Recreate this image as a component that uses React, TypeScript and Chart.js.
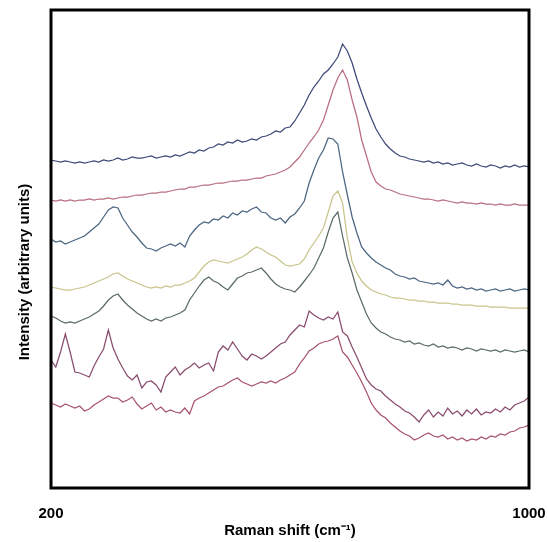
import React, { useEffect, useRef } from "react";
import { Chart, registerables } from "chart.js";

Chart.register(...registerables);

// Raman shift axis (cm^-1), 200..1000 step 8
const ramanShift: number[] = Array.from({ length: 101 }, (_, i) => 200 + 8 * i);

const xTickValues = [200, 1000];
const xTitle = "Raman shift (cm\u207B\u00B9)";
const yTitle = "Intensity (arbitrary units)";

// Seven stacked spectra (offset intensities, arbitrary units), top to bottom
const spectrum1 = [
  328, 327, 326, 327, 326, 325, 326, 325, 326, 327, 326, 328, 327, 328, 330, 328, 329, 331, 330, 330, 331,
  332, 330, 331, 332, 331, 333, 332, 334, 336, 335, 338, 337, 340, 341, 344, 343, 346, 345, 348, 346,
  347, 349, 348, 351, 352, 354, 357, 356, 360, 361, 367, 375, 383, 393, 401, 407, 414, 418, 424, 431,
  444, 437, 425, 409, 395, 382, 370, 359, 351, 344, 339, 335, 332, 331, 329, 328, 327, 326, 327, 325,
  326, 324, 325, 323, 324, 325, 323, 322, 324, 322, 321, 323, 322, 320, 322, 321, 323, 321, 322, 321,
];
const spectrum2 = [
  288, 287, 288, 287, 288, 287, 288, 288, 289, 288, 289, 289, 290, 289, 290, 291, 291, 292, 293, 293, 294,
  295, 295, 296, 296, 297, 298, 299, 299, 301, 301, 302, 303, 303, 304, 305, 305, 306, 307, 307, 308,
  308, 309, 310, 310, 312, 313, 314, 316, 318, 321, 326, 331, 338, 345, 351, 358, 368, 383, 398, 410,
  418, 408, 388, 371, 348, 332, 316, 306, 302, 299, 298, 296, 294, 293, 292, 291, 290, 289, 289, 288,
  287, 288, 287, 286, 285, 286, 285, 285, 284, 285, 284, 284, 283, 284, 283, 283, 284, 283, 283, 283,
];
const spectrum3 = [
  249, 246, 247, 244, 246, 248, 250, 252, 256, 260, 264, 271, 278, 281, 280, 270, 263, 256, 251, 245, 240,
  239, 237, 240, 242, 244, 242, 245, 241, 252, 258, 263, 266, 265, 269, 268, 272, 270, 275, 273, 277,
  276, 279, 281, 276, 275, 270, 268, 270, 265, 271, 274, 280, 287, 305, 318, 330, 338, 350, 349, 344,
  316, 293, 271, 255, 241, 235, 230, 226, 223, 220, 218, 214, 212, 211, 209, 210, 207, 206, 205, 204,
  205, 203, 208, 202, 200, 201, 199, 200, 198, 199, 197, 198, 199, 197, 198, 199, 197, 198, 199, 198,
];
const spectrum4 = [
  201, 200, 199, 198, 198, 199, 200, 201, 203, 205, 207, 209, 211, 214, 215, 212, 209, 207, 205, 203, 201,
  200, 201, 200, 202, 201, 203, 203, 205, 207, 210, 216, 222, 226, 228, 227, 226, 225, 227, 229, 231,
  234, 238, 241, 239, 236, 233, 231, 227, 223, 222, 223, 224, 229, 238, 245, 252, 260, 276, 292, 297,
  285, 250, 226, 215, 207, 202, 198, 196, 194, 193, 191, 190, 190, 189, 188, 188, 187, 187, 186, 186,
  185, 185, 185, 184, 184, 183, 183, 183, 182, 182, 182, 181, 181, 181, 181, 180, 180, 180, 180, 180,
];
const spectrum5 = [
  172, 170, 167, 165, 166, 165, 167, 169, 171, 174, 177, 182, 188, 192, 194, 188, 183, 179, 175, 172, 169,
  167, 169, 167, 170, 171, 173, 175, 178, 188, 195, 202, 208, 211, 207, 205, 201, 198, 204, 210, 212,
  215, 216, 218, 220, 215, 209, 204, 201, 199, 198, 196, 201, 207, 213, 220, 230, 240, 256, 270, 276,
  252, 230, 215, 198, 186, 174, 165, 160, 156, 154, 151, 149, 148, 146, 147, 144, 145, 143, 142, 144,
  141, 142, 140, 141, 140, 138, 140, 139, 137, 139, 138, 137, 138, 136, 138, 137, 136, 137, 138, 136,
];
const spectrum6 = [
  128, 121, 136, 154, 136, 116, 115, 113, 111, 122, 131, 139, 158, 140, 129, 120, 112, 108, 113, 100, 106,
  107, 103, 96, 111, 116, 121, 113, 118, 121, 125, 120, 123, 125, 117, 136, 142, 138, 146, 139, 132,
  128, 134, 132, 129, 132, 136, 140, 144, 146, 153, 158, 163, 161, 177, 173, 170, 168, 171, 169, 176,
  156, 152, 141, 131, 120, 109, 103, 99, 97, 92, 88, 84, 81, 77, 75, 71, 66, 73, 78, 71,
  76, 72, 80, 74, 77, 72, 78, 74, 79, 73, 76, 75, 79, 76, 81, 78, 83, 85, 87, 91,
];
const spectrum7 = [
  85, 83, 81, 84, 82, 80, 82, 77, 79, 83, 86, 89, 92, 90, 90, 86, 88, 91, 84, 79, 82,
  85, 78, 81, 76, 78, 76, 75, 80, 74, 87, 90, 92, 95, 98, 101, 102, 105, 108, 110, 106,
  104, 102, 104, 106, 105, 107, 105, 108, 110, 113, 116, 124, 130, 137, 140, 144, 146, 147, 149, 152,
  136, 131, 123, 115, 106, 96, 85, 78, 73, 70, 65, 61, 57, 54, 52, 48, 50, 53, 55, 52,
  51, 53, 49, 51, 48, 50, 47, 49, 48, 51, 49, 52, 51, 54, 53, 56, 57, 60, 61, 63,
];

const seriesList = [spectrum1, spectrum2, spectrum3, spectrum4, spectrum5, spectrum6, spectrum7];
const seriesColors = ["#3d4a78", "#b86e7e", "#4b6582", "#c8c48a", "#5a6b69", "#8a4c6e", "#a8546f"];

const FONT_FAMILY = "'Liberation Sans', Arial, Helvetica, sans-serif";

const framePlugin = {
  id: "frameAndYTitle",
  afterDraw(chart: any) {
    const { ctx, chartArea } = chart;
    ctx.save();
    ctx.strokeStyle = "#000";
    ctx.lineWidth = 3;
    ctx.strokeRect(chartArea.left, chartArea.top, chartArea.right - chartArea.left, chartArea.bottom - chartArea.top);
    ctx.translate(25, 272);
    ctx.rotate(-Math.PI / 2);
    ctx.fillStyle = "#000";
    ctx.font = `bold 15px ${FONT_FAMILY}`;
    ctx.textAlign = "center";
    ctx.textBaseline = "middle";
    ctx.fillText(yTitle, 0, 0);
    ctx.restore();
  },
};

export default function App() {
  const canvasRef = useRef<HTMLCanvasElement | null>(null);

  useEffect(() => {
    if (!canvasRef.current) return;
    const chart = new Chart(canvasRef.current, {
      type: "line",
      data: {
        datasets: seriesList.map((values, k) => ({
          label: `Spectrum ${k + 1}`,
          data: values.map((v, i) => ({ x: ramanShift[i], y: v })),
          borderColor: seriesColors[k],
          borderWidth: 1.25,
          pointRadius: 0,
          tension: 0,
          fill: false,
        })),
      },
      options: {
        responsive: false,
        animation: false,
        events: [],
        layout: { padding: { left: 51, top: 10, right: 19, bottom: 0 } },
        plugins: { legend: { display: false }, tooltip: { enabled: false }, title: { display: false } },
        scales: {
          x: {
            type: "linear",
            min: 200,
            max: 1000,
            grid: { display: false },
            border: { display: false },
            afterBuildTicks: (scale: any) => {
              scale.ticks = xTickValues.map((v) => ({ value: v }));
            },
            afterFit: (scale: any) => {
              scale.height = 54;
              scale.paddingLeft = 0;
              scale.paddingRight = 0;
            },
            ticks: {
              color: "#000",
              padding: 9,
              maxRotation: 0,
              autoSkip: false,
              font: { family: FONT_FAMILY, size: 15, weight: "bold" },
              callback: (v: any) => String(v),
            },
            title: {
              display: true,
              text: xTitle,
              color: "#000",
              padding: { top: 0, bottom: 2 },
              font: { family: FONT_FAMILY, size: 15, weight: "bold" },
            },
          },
          y: {
            display: false,
            min: 0,
            max: 478,
          },
        },
      },
      plugins: [framePlugin],
    });
    return () => chart.destroy();
  }, []);

  return (
    <div style={{ position: "absolute", left: 0, top: 0, width: 548, height: 542, background: "#fff" }}>
      <canvas ref={canvasRef} width={548} height={542} />
    </div>
  );
}
